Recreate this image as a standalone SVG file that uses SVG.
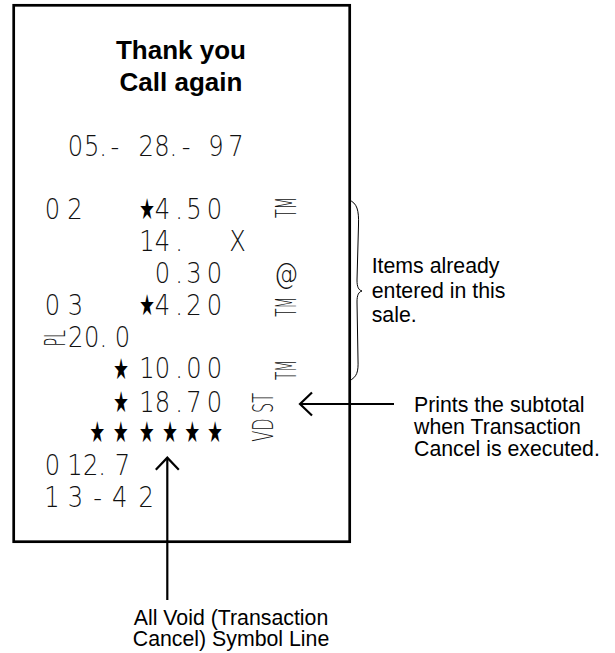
<svg xmlns="http://www.w3.org/2000/svg" width="615" height="653" viewBox="0 0 615 653">
<style>
.title{font-family:"Liberation Sans",Arial,sans-serif;font-weight:bold;font-size:26px;fill:#000;text-anchor:middle}
.note{font-family:"Liberation Sans",Arial,sans-serif;font-size:21.3px;fill:#000}
.rc{font-family:"DejaVu Sans",sans-serif;font-weight:200;font-size:27.5px;fill:#111;text-anchor:middle}
.rv{font-family:"DejaVu Sans",sans-serif;font-weight:200;font-size:27.5px;fill:#111}
.st{font-family:"DejaVu Sans",sans-serif;font-size:29px;fill:#000;text-anchor:middle}
.ln{fill:none;stroke:#000;stroke-width:2.2}
</style>
<defs>
<marker id="chev" markerUnits="userSpaceOnUse" markerWidth="30" markerHeight="30" refX="0" refY="0" orient="auto" overflow="visible">
<path d="M-12,-11.5 L0,0 L-12,11.5" fill="none" stroke="#000" stroke-width="2.2"/>
</marker>
</defs>
<g id="receipt">
<rect x="13.7" y="5.3" width="336" height="536.4" fill="#fff" stroke="#000" stroke-width="2.7"/>
<text class="title" x="181" y="59">Thank you</text>
<text class="title" x="181" y="90.7">Call again</text>
<g transform="scale(0.88,1)">
<text class="rc" x="85.80 104.20 117.05 130.68 166.25 184.09 196.93 211.36 245.45 268.18" y="156">05.-28.-97</text>
<text class="rc" x="59.66 85.23 184.5 203.41 220.45 243.75" y="219">024.50</text>
<text class="rc" x="167.05 184.66 203.41 269.89" y="251">14.X</text>
<text class="rc" x="184.66 203.41 220.45 243.75 325" y="282.7">0.30@</text>
<text class="rc" x="59.66 85.80 184.5 203.41 220.45 243.75" y="315">034.20</text>
<text class="rc" x="86.14 104.20 117.39 139.20" y="346.7">20.0</text>
<text class="rc" x="167.05 184.66 203.41 220.45 243.75" y="378.3">10.00</text>
<text class="rc" x="167.05 184.66 203.41 220.45 243.75" y="411.7">18.70</text>
<text class="rc" x="59.66 85.23 103.18 115.91 139.20" y="475">012.7</text>
<text class="rc" x="59.09 85.80 110.80 135.91 166.25" y="506.7">13-42</text>
</g>
<g transform="scale(0.6,1)">
<text class="st" x="245" y="219">★</text>
<text class="st" x="245" y="315.5">★</text>
<text class="st" x="201.67" y="379">★</text>
<text class="st" x="201.67" y="412.5">★</text>
<text class="st" x="162.17 201.17 244.5 283.33 320.5 358.33" y="442">★★★★★★</text>
</g>
<text class="rv" transform="translate(296,218) rotate(-90)" textLength="21" lengthAdjust="spacingAndGlyphs">TM</text>
<text class="rv" transform="translate(296,316.7) rotate(-90)" textLength="20" lengthAdjust="spacingAndGlyphs">TM</text>
<text class="rv" transform="translate(296,380) rotate(-90)" textLength="20" lengthAdjust="spacingAndGlyphs">TM</text>
<text class="rv" transform="translate(273.3,441.7) rotate(-90)" textLength="48.7" lengthAdjust="spacingAndGlyphs">VD ST</text>
<text class="rv" transform="translate(65,346.5) rotate(-90)" textLength="16.5" lengthAdjust="spacingAndGlyphs">PL</text>
</g>
<g id="brace">
<path d="M349,200 C357,203 359,210 358.5,225 L357,280 C357,287 358.5,290 362,291 C358.5,292 357,295 357,302 L358,360 C358.5,372 357,377 349,381" fill="none" stroke="#000" stroke-width="1"/>
</g>
<g id="label-items">
<text class="note" x="371.7" y="273">Items already</text>
<text class="note" x="371.7" y="298">entered in this</text>
<text class="note" x="371.7" y="322">sale.</text>
</g>
<g id="label-subtotal">
<text class="note" x="414" y="412">Prints the subtotal</text>
<text class="note" x="414" y="434">when Transaction</text>
<text class="note" x="414" y="456">Cancel is executed.</text>
</g>
<g id="label-void">
<text class="note" x="231" y="624.5" text-anchor="middle">All Void (Transaction</text>
<text class="note" x="231" y="645.5" text-anchor="middle">Cancel) Symbol Line</text>
</g>
<g id="connectors">
<line class="ln" x1="394" y1="404" x2="300" y2="404" marker-end="url(#chev)"/>
<line class="ln" x1="167.3" y1="600" x2="167.3" y2="457.7" marker-end="url(#chev)"/>
</g>
</svg>
